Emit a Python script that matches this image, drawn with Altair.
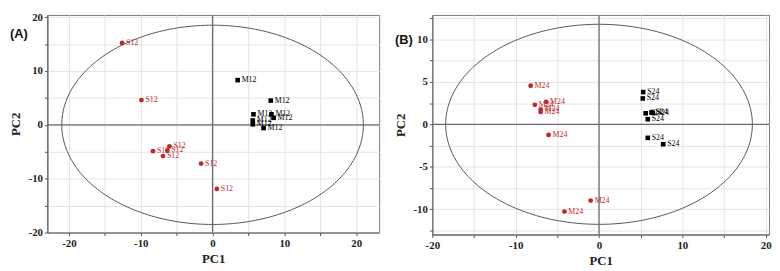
import altair as alt
import pandas as pd
import numpy as np

# ---------------- Panel A data ----------------
a_red_label = "S12"
a_red_x = [-12.6, -9.9, -6.0, -8.3, -6.3, -6.9, -1.6, 0.6]
a_red_y = [15.2, 4.6, -4.0, -4.9, -4.75, -5.8, -7.2, -11.9]
a_blk_label = "M12"
a_blk_x = [3.5, 8.1, 5.7, 8.2, 8.5, 5.6, 5.6, 7.1]
a_blk_y = [8.3, 4.5, 1.95, 1.95, 1.3, 0.8, 0.1, -0.6]
a_ellipse = (21.0, 18.5)
a_xdomain = [-23.0, 23.2]
a_ydomain = [-20.0, 20.4]
a_xticks = [-20, -15, -10, -5, 0, 5, 10, 15, 20]
a_yticks = [-20, -15, -10, -5, 0, 5, 10, 15, 20]

# ---------------- Panel B data ----------------
b_red_label = "M24"
b_red_x = [-8.2, -7.7, -6.35, -7.0, -7.0, -6.05, -1.0, -4.15]
b_red_y = [4.55, 2.3, 2.65, 1.75, 1.45, -1.25, -9.0, -10.3]
b_blk_label = "S24"
b_blk_x = [5.3, 5.25, 5.6, 6.3, 6.45, 5.85, 5.85, 7.7]
b_blk_y = [3.8, 3.05, 1.3, 1.4, 1.35, 0.6, -1.6, -2.35]
b_ellipse = (18.4, 11.8)
b_xdomain = [-20.0, 20.4]
b_ydomain = [-13.0, 12.9]
b_xticks = [-20, -15, -10, -5, 0, 5, 10, 15, 20]
b_yticks = [-12.5, -10, -7.5, -5, -2.5, 0, 2.5, 5, 7.5, 10, 12.5]

RED = "#c0282d"
BLACK = "#000000"
SERIF = "Liberation Serif"


def ellipse_df(rx, ry, n=241):
    t = np.linspace(0, 2 * np.pi, n)
    return pd.DataFrame({"x": rx * np.cos(t), "y": ry * np.sin(t), "o": np.arange(n)})


def panel(red_x, red_y, red_lab, blk_x, blk_y, blk_lab, xdom, ydom, xticks, yticks,
          ell, tag, w, h, xstep, ystep, tag_y):
    red = pd.DataFrame({"x": red_x, "y": red_y, "g": [red_lab] * len(red_x)})
    blk = pd.DataFrame({"x": blk_x, "y": blk_y, "g": [blk_lab] * len(blk_x)})
    xs = alt.Scale(domain=xdom, nice=False, zero=False)
    ys = alt.Scale(domain=ydom, nice=False, zero=False)
    xax = alt.Axis(values=xticks, title="PC1", labelFlush=False, titlePadding=4,
                   labelExpr=f"datum.value % {xstep} == 0 ? '' + datum.value : ''")
    yax = alt.Axis(values=yticks, title="PC2", labelFlush=False,
                   labelExpr=f"datum.value % {ystep} == 0 ? '' + datum.value : ''")
    X = alt.X("x:Q", scale=xs, axis=xax)
    Y = alt.Y("y:Q", scale=ys, axis=yax)

    ell_layer = alt.Chart(ellipse_df(*ell)).mark_line(color="#555555", strokeWidth=1).encode(
        x=X, y=Y, order="o:Q")
    zx = alt.Chart(pd.DataFrame({"v": [0]})).mark_rule(color="#6b6b6b", strokeWidth=1.3).encode(
        x=alt.X("v:Q", scale=xs, axis=xax))
    zy = alt.Chart(pd.DataFrame({"v": [0]})).mark_rule(color="#6b6b6b", strokeWidth=1.3).encode(
        y=alt.Y("v:Q", scale=ys, axis=yax))
    red_pts = alt.Chart(red).mark_circle(size=24, color=RED, opacity=1).encode(x=X, y=Y)
    blk_pts = alt.Chart(blk).mark_square(size=22, color=BLACK, opacity=1).encode(x=X, y=Y)
    red_txt = alt.Chart(red).mark_text(align="left", dx=4, baseline="middle", font=SERIF,
                                       fontSize=8, color=RED).encode(x=X, y=Y, text="g:N")
    blk_txt = alt.Chart(blk).mark_text(align="left", dx=4, baseline="middle", font=SERIF,
                                       fontSize=8, color=BLACK).encode(x=X, y=Y, text="g:N")
    tag_layer = alt.Chart(pd.DataFrame({"t": [tag]})).mark_text(
        align="left", baseline="middle", font="Liberation Sans", fontWeight="bold",
        fontSize=13, color="#111111").encode(
        x=alt.value(-38), y=alt.value(tag_y), text="t:N")
    return alt.layer(ell_layer, zx, zy, red_pts, blk_pts, red_txt, blk_txt, tag_layer).properties(
        width=w, height=h)


pa = panel(a_red_x, a_red_y, a_red_label, a_blk_x, a_blk_y, a_blk_label,
           a_xdomain, a_ydomain, a_xticks, a_yticks, a_ellipse, "(A)", 337, 221, 10, 10, 19)
pb = panel(b_red_x, b_red_y, b_red_label, b_blk_x, b_blk_y, b_blk_label,
           b_xdomain, b_ydomain, b_xticks, b_yticks, b_ellipse, "(B)", 342, 223, 10, 5, 25)

chart = alt.hconcat(pa, pb, spacing=12).properties(padding=0).configure_view(
    stroke="#7a7a7a", strokeWidth=1
).configure_axis(
    labelFont=SERIF, labelFontWeight="bold", labelFontSize=11, labelColor="#222222",
    titleFont=SERIF, titleFontWeight="bold", titleFontSize=13, titleColor="#222222",
    tickSize=3, tickColor="#555555", domainColor="#555555", gridColor="#e4e4e4",
    labelPadding=2, titlePadding=6
)

chart.save("out.html", embed_options={"renderer": "svg", "actions": False})
